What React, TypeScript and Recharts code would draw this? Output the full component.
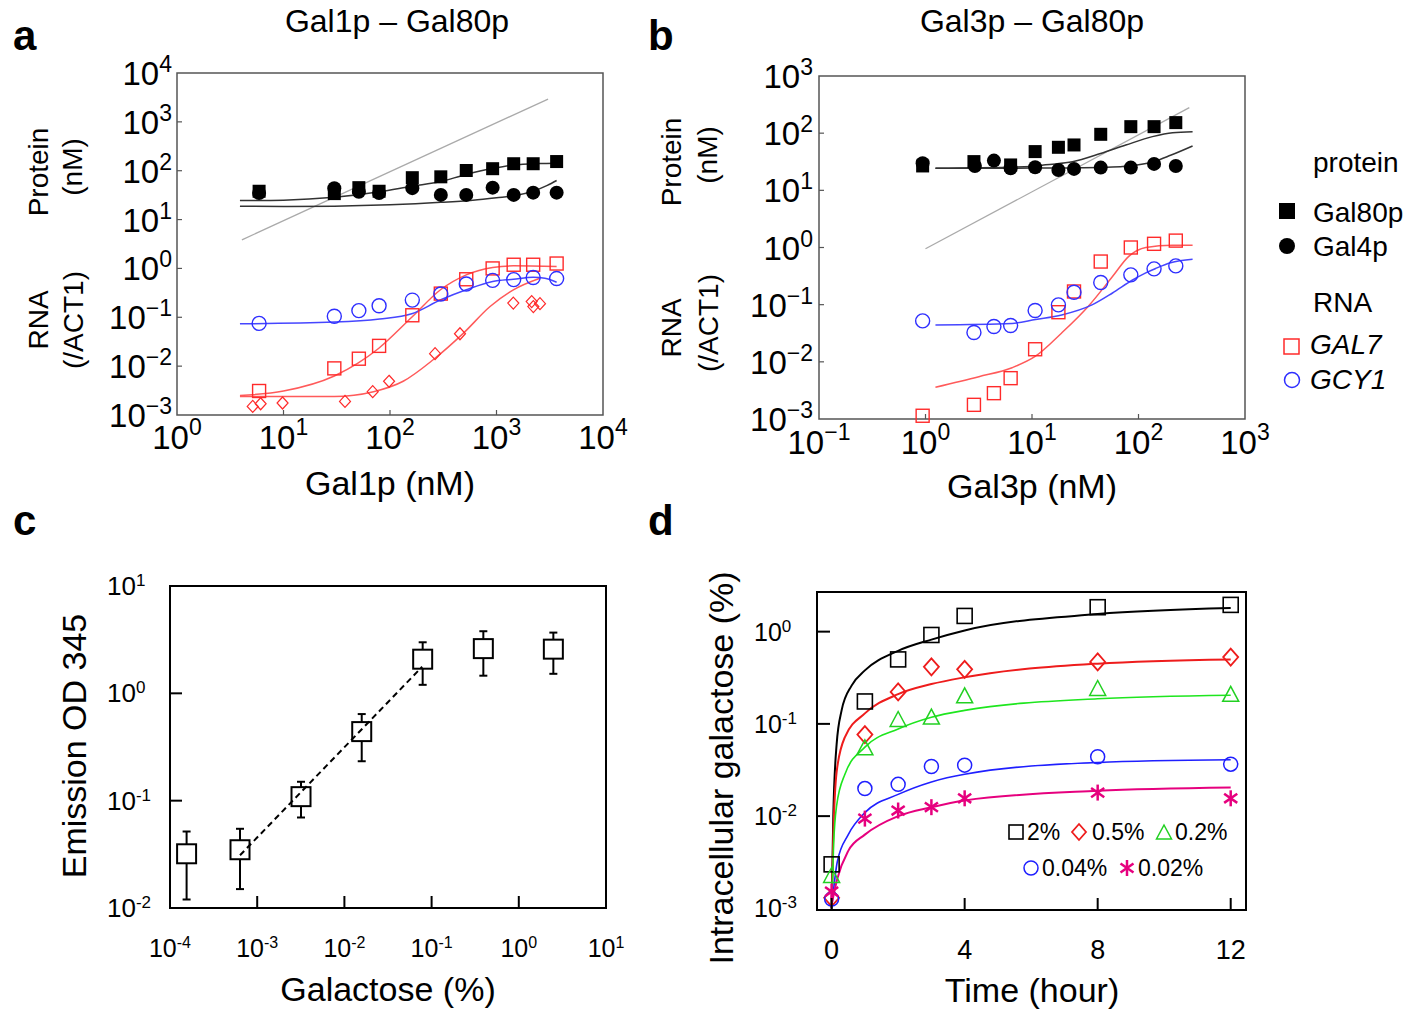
import React from 'react';
import { ComposedChart, Scatter, Line, XAxis, YAxis, ReferenceArea, ErrorBar } from 'recharts';

const FONT = "'Liberation Sans', Arial, Helvetica, sans-serif";
const RED = '#ff2a2a';
const RED_LINE = '#ff5a5a';
const BLUE = '#2e2eff';
const BLUE_LINE = '#4646ff';

// panel a: Gal1p titration (nM)
const aDose = [5.9, 30, 51, 79, 162, 300, 520, 920, 1450, 2210, 3670];
const aGal80p = [38, 34, 45, 38, 72, 75, 101, 110, 139, 139, 154];
const aGal4p = [35, 44, 37, 35, 44, 32, 32, 45, 32, 35.6, 35.6];
const aGAL7 = [0.0031, 0.009, 0.0142, 0.026, 0.11, 0.305, 0.6, 1.0, 1.19, 1.19, 1.26];
const aGCY1 = [0.075, 0.105, 0.137, 0.172, 0.225, 0.3, 0.48, 0.57, 0.59, 0.65, 0.62];
const aDiaX = [5.14, 6.1, 9.8, 37.8, 68.8, 98, 265, 454, 1438, 2140, 2218, 2560];
const aDiaY = [0.0015, 0.0017, 0.00176, 0.0019, 0.003, 0.0049, 0.018, 0.046, 0.195, 0.21, 0.166, 0.19];
// fitted curves
const aFit80X = [3.9, 10, 30, 80, 160, 300, 500, 930, 1440, 2500, 3670];
const aFit80Y = [24.5, 25, 28.5, 37, 48, 60, 82, 112, 131, 140, 142];
const aFit4X = [3.9, 10, 30, 100, 300, 600, 1000, 1500, 2200, 3000, 3670];
const aFit4Y = [18.8, 18.6, 18.8, 20, 22.5, 25, 28, 31, 38, 50, 63];
const aDiagX = [4.07, 3050];
const aDiagY = [3.85, 2930];
const aFitGAL7X = [3.9, 10, 30, 50, 78, 160, 300, 520, 920, 1440, 3670];
const aFitGAL7Y = [0.0025, 0.0031, 0.0063, 0.0115, 0.023, 0.1, 0.37, 0.74, 1.05, 1.13, 1.1];
const aFitDiaX = [3.9, 30, 70, 133, 254, 490, 870, 1440, 2560];
const aFitDiaY = [0.0024, 0.0024, 0.003, 0.0049, 0.0135, 0.0475, 0.166, 0.365, 0.63];
const aFitGCY1X = [3.9, 30, 80, 160, 300, 520, 920, 1440, 2210, 2850, 3670];
const aFitGCY1Y = [0.0736, 0.0797, 0.092, 0.118, 0.228, 0.365, 0.54, 0.6, 0.66, 0.63, 0.52];

// panel b: Gal3p titration (nM)
const bSqX = [0.94, 2.85, 6.3, 10.7, 17.7, 24.8, 44.2, 84.7, 140, 224];
const bGal80p = [26.7, 31.8, 27.8, 47.6, 56.6, 62.2, 95.5, 130, 130, 153];
const bCiX = [0.94, 2.91, 4.39, 6.3, 10.7, 17.7, 24.8, 44.2, 84.7, 140, 224];
const bGal4p = [29.7, 26.7, 33.1, 24.3, 25.3, 22.7, 23.7, 25, 25, 29, 26.7];
const bDose = [0.94, 2.85, 4.39, 6.3, 10.7, 17.7, 24.8, 44.2, 84.7, 140, 224];
const bGAL7 = [0.00114, 0.00177, 0.00283, 0.00518, 0.0166, 0.0738, 0.17, 0.568, 1.0, 1.16, 1.32];
const bGCY1 = [0.052, 0.0326, 0.0415, 0.0432, 0.079, 0.099, 0.165, 0.244, 0.332, 0.423, 0.477];
const bFit80X = [1.24, 10, 13.4, 24, 44, 76, 135, 209, 322];
const bFit80Y = [24.3, 26, 27.9, 31.6, 44, 62, 87, 102, 106];
const bFit4X = [1.24, 10, 30, 57, 100, 140, 200, 322];
const bFit4Y = [24.3, 24.5, 24.8, 25.5, 28, 32, 41, 59.7];
const bDiagX = [1, 300];
const bDiagY = [0.95, 279];
const bFitGAL7X = [1.24, 3.17, 6.5, 10.7, 19, 34, 57, 81, 117, 208, 322];
const bFitGAL7Y = [0.0036, 0.0055, 0.0079, 0.0124, 0.032, 0.095, 0.31, 0.7, 1.0, 1.1, 1.1];
const bFitGCY1X = [1.24, 6.5, 10.8, 19, 37, 57, 88, 117, 145, 200, 322];
const bFitGCY1Y = [0.0443, 0.047, 0.055, 0.066, 0.1, 0.16, 0.27, 0.36, 0.43, 0.54, 0.62];

// panel c: emission vs galactose
const cGal = [1.55e-4, 6.35e-4, 3.18e-3, 0.0158, 0.079, 0.392, 2.49];
const cEmission = [0.032, 0.0349, 0.109, 0.44, 2.08, 2.61, 2.58];
const cHigh = [0.0516, 0.0547, 0.15, 0.641, 2.99, 3.79, 3.68];
const cLow = [0.012, 0.015, 0.0697, 0.233, 1.2, 1.46, 1.52];
const cTrendX = [6.35e-4, 0.078];
const cTrendY = [0.031, 1.77];

// panel d: intracellular galactose over time
const dTime = [0, 1, 2, 3, 4, 8, 12];
const d2 = [0.003, 0.175, 0.5, 0.92, 1.48, 1.84, 1.95];
const d05 = [0.0013, 0.0765, 0.222, 0.415, 0.39, 0.47, 0.53];
const d02 = [0.0023, 0.0557, 0.113, 0.12, 0.204, 0.245, 0.212];
const d004 = [0.00126, 0.0199, 0.0221, 0.0345, 0.0357, 0.044, 0.0366];
const d002 = [0.00152, 0.0094, 0.0115, 0.0125, 0.0156, 0.018, 0.0156];
const dFit2X = [0, 0.05, 0.15, 0.3, 0.6, 1, 2, 3, 4, 8, 12];
const dFit2Y = [0.001, 0.01, 0.06, 0.14, 0.26, 0.38, 0.62, 0.82, 1.03, 1.55, 1.8];
const dFit05X = [0, 0.05, 0.15, 0.4, 1, 2, 3, 4, 8, 12];
const dFit05Y = [0.001, 0.006, 0.03, 0.072, 0.13, 0.21, 0.27, 0.32, 0.45, 0.5];
const dFit02X = [0, 0.06, 0.15, 0.4, 1, 2, 3, 4, 8, 12];
const dFit02Y = [0.001, 0.005, 0.013, 0.0285, 0.056, 0.088, 0.118, 0.14, 0.187, 0.204];
const dFit004X = [0, 0.17, 0.5, 1, 2, 3, 4, 8, 12];
const dFit004Y = [0.001, 0.0032, 0.0063, 0.0109, 0.0172, 0.0235, 0.0285, 0.0382, 0.0408];
const dFit002X = [0, 0.17, 0.5, 1, 2, 3, 4, 8, 12];
const dFit002Y = [0.0011, 0.0021, 0.0042, 0.0063, 0.01, 0.0125, 0.0148, 0.0188, 0.0204];

const pts = (xs: number[], ys: number[]) => xs.map((x, i) => ({ x, y: ys[i] }));

// marker shapes
const filledSquare = (s: number, c: string) => (p: any) => (
  <rect x={p.cx - s / 2} y={p.cy - s / 2} width={s} height={s} fill={c} />
);
const openSquare = (s: number, c: string, w: number, fill = 'none') => (p: any) => (
  <rect x={p.cx - s / 2} y={p.cy - s / 2} width={s} height={s} fill={fill} stroke={c} strokeWidth={w} />
);
const filledCircle = (r: number, c: string) => (p: any) => <circle cx={p.cx} cy={p.cy} r={r} fill={c} />;
const openCircle = (r: number, c: string, w: number) => (p: any) => (
  <circle cx={p.cx} cy={p.cy} r={r} fill="none" stroke={c} strokeWidth={w} />
);
const openDiamond = (hw: number, hh: number, c: string, w: number) => (p: any) => (
  <polygon
    points={`${p.cx},${p.cy - hh} ${p.cx + hw},${p.cy} ${p.cx},${p.cy + hh} ${p.cx - hw},${p.cy}`}
    fill="none"
    stroke={c}
    strokeWidth={w}
  />
);
const openTriangle = (w: number, h: number, c: string, sw: number) => (p: any) => (
  <polygon
    points={`${p.cx},${p.cy - h / 2} ${p.cx + w / 2},${p.cy + h / 2} ${p.cx - w / 2},${p.cy + h / 2}`}
    fill="none"
    stroke={c}
    strokeWidth={sw}
  />
);
const asterisk = (r: number, c: string, w: number) => (p: any) => (
  <g stroke={c} strokeWidth={w}>
    {[90, 35, 145].map(a => {
      const dx = r * Math.cos((a * Math.PI) / 180);
      const dy = r * Math.sin((a * Math.PI) / 180);
      return <line key={a} x1={p.cx - dx} y1={p.cy - dy} x2={p.cx + dx} y2={p.cy + dy} />;
    })}
  </g>
);
const nothing = () => <g />;

// tick labels "10^n" with optional inward tick marks
interface TickOpts {
  fs: number;
  sfs: number;
  raise: number;
  anchor: 'start' | 'middle' | 'end';
  base: number;
  minus: string;
  side: 'left' | 'bottom';
  gap: number;
  len: number;
  marks: number[];
  stroke: string;
  sw: number;
}

function powTick(o: TickOpts) {
  return function PowTick(props: any) {
    const { x, y, payload } = props;
    const v = payload.value;
    const e = Math.round(Math.log10(v));
    const exp = e < 0 ? o.minus + String(-e) : String(e);
    let mark = null;
    if (o.marks.some(m => Math.abs(Math.log10(m) - Math.log10(v)) < 1e-6)) {
      if (o.side === 'left') {
        const ax = x + o.gap;
        mark = <line x1={ax} y1={y} x2={ax + o.len} y2={y} stroke={o.stroke} strokeWidth={o.sw} />;
      } else {
        const ay = y - o.gap;
        mark = <line x1={x} y1={ay} x2={x} y2={ay - o.len} stroke={o.stroke} strokeWidth={o.sw} />;
      }
    }
    return (
      <g>
        {mark}
        <text x={x} y={y + o.base} textAnchor={o.anchor} fontSize={o.fs} fontFamily={FONT} fill="#000">
          10
          <tspan dy={-o.raise} fontSize={o.sfs}>
            {exp}
          </tspan>
        </text>
      </g>
    );
  };
}

function PanelA() {
  const xt = powTick({ fs: 33, sfs: 23, raise: 14, anchor: 'middle', base: 34, minus: '\u2212', side: 'bottom', gap: 0, len: 5, marks: [10, 100, 1000], stroke: '#555', sw: 1.2 });
  const yt = powTick({ fs: 33, sfs: 23, raise: 13, anchor: 'end', base: 12, minus: '\u2212', side: 'left', gap: 5, len: 5, marks: [1e-2, 0.1, 1, 10, 100, 1000], stroke: '#555', sw: 1.2 });
  return (
    <ComposedChart width={640} height={520} margin={{ top: 73, right: 37, left: 0, bottom: 0 }}>
      <XAxis dataKey="x" type="number" scale="log" domain={[1, 10000]} ticks={[1, 10, 100, 1000, 10000]} interval={0} height={105} axisLine={false} tickLine={false} tickSize={0} tickMargin={0} tick={xt} />
      <YAxis dataKey="y" type="number" scale="log" domain={[1e-3, 1e4]} ticks={[1e-3, 1e-2, 0.1, 1, 10, 100, 1000, 10000]} interval={0} width={177} axisLine={false} tickLine={false} tickSize={0} tickMargin={5} tick={yt} />
      <ReferenceArea x1={1} x2={10000} y1={1e-3} y2={1e4} fill="none" stroke="#555" strokeWidth={1.5} ifOverflow="visible" />
      <Line data={pts(aDiagX, aDiagY)} dataKey="y" type="linear" stroke="#aaaaaa" strokeWidth={1.3} dot={false} isAnimationActive={false} />
      <Line data={pts(aFit80X, aFit80Y)} dataKey="y" type="monotone" stroke="#333" strokeWidth={1.5} dot={false} isAnimationActive={false} />
      <Line data={pts(aFit4X, aFit4Y)} dataKey="y" type="monotone" stroke="#333" strokeWidth={1.5} dot={false} isAnimationActive={false} />
      <Line data={pts(aFitGAL7X, aFitGAL7Y)} dataKey="y" type="monotone" stroke={RED_LINE} strokeWidth={1.5} dot={false} isAnimationActive={false} />
      <Line data={pts(aFitDiaX, aFitDiaY)} dataKey="y" type="monotone" stroke={RED_LINE} strokeWidth={1.5} dot={false} isAnimationActive={false} />
      <Line data={pts(aFitGCY1X, aFitGCY1Y)} dataKey="y" type="monotone" stroke={BLUE_LINE} strokeWidth={1.5} dot={false} isAnimationActive={false} />
      <Scatter data={pts(aDose, aGal80p)} shape={filledSquare(13, '#000')} isAnimationActive={false} />
      <Scatter data={pts(aDose, aGal4p)} shape={filledCircle(7, '#000')} isAnimationActive={false} />
      <Scatter data={pts(aDiaX, aDiaY)} shape={openDiamond(5.5, 6, RED, 1.2)} isAnimationActive={false} />
      <Scatter data={pts(aDose, aGAL7)} shape={openSquare(13, RED, 1.4)} isAnimationActive={false} />
      <Scatter data={pts(aDose, aGCY1)} shape={openCircle(7, BLUE, 1.4)} isAnimationActive={false} />
    </ComposedChart>
  );
}

function PanelB() {
  const xt = powTick({ fs: 33, sfs: 23, raise: 14, anchor: 'middle', base: 35, minus: '\u2212', side: 'bottom', gap: 0, len: 5, marks: [1, 10, 100], stroke: '#555', sw: 1.2 });
  const yt = powTick({ fs: 33, sfs: 23, raise: 13, anchor: 'end', base: 12, minus: '\u2212', side: 'left', gap: 6, len: 5, marks: [1e-2, 0.1, 1, 10, 100], stroke: '#555', sw: 1.2 });
  return (
    <ComposedChart width={680} height={520} margin={{ top: 76, right: 75, left: 0, bottom: 0 }}>
      <XAxis dataKey="x" type="number" scale="log" domain={[0.1, 1000]} ticks={[0.1, 1, 10, 100, 1000]} interval={0} height={101} axisLine={false} tickLine={false} tickSize={0} tickMargin={0} tick={xt} />
      <YAxis dataKey="y" type="number" scale="log" domain={[1e-3, 1e3]} ticks={[1e-3, 1e-2, 0.1, 1, 10, 100, 1000]} interval={0} width={179} axisLine={false} tickLine={false} tickSize={0} tickMargin={6} tick={yt} />
      <ReferenceArea x1={0.1} x2={1000} y1={1e-3} y2={1e3} fill="none" stroke="#555" strokeWidth={1.5} ifOverflow="visible" />
      <Line data={pts(bDiagX, bDiagY)} dataKey="y" type="linear" stroke="#aaaaaa" strokeWidth={1.3} dot={false} isAnimationActive={false} />
      <Line data={pts(bFit80X, bFit80Y)} dataKey="y" type="monotone" stroke="#333" strokeWidth={1.5} dot={false} isAnimationActive={false} />
      <Line data={pts(bFit4X, bFit4Y)} dataKey="y" type="monotone" stroke="#333" strokeWidth={1.5} dot={false} isAnimationActive={false} />
      <Line data={pts(bFitGAL7X, bFitGAL7Y)} dataKey="y" type="monotone" stroke={RED_LINE} strokeWidth={1.5} dot={false} isAnimationActive={false} />
      <Line data={pts(bFitGCY1X, bFitGCY1Y)} dataKey="y" type="monotone" stroke={BLUE_LINE} strokeWidth={1.5} dot={false} isAnimationActive={false} />
      <Scatter data={pts(bSqX, bGal80p)} shape={filledSquare(13, '#000')} isAnimationActive={false} />
      <Scatter data={pts(bCiX, bGal4p)} shape={filledCircle(7, '#000')} isAnimationActive={false} />
      <Scatter data={pts(bDose, bGAL7)} shape={openSquare(13, RED, 1.4)} isAnimationActive={false} />
      <Scatter data={pts(bDose, bGCY1)} shape={openCircle(7, BLUE, 1.4)} isAnimationActive={false} />
    </ComposedChart>
  );
}

function PanelC() {
  const xt = powTick({ fs: 25, sfs: 16, raise: 9, anchor: 'middle', base: 49, minus: '-', side: 'bottom', gap: 0, len: 12, marks: [1e-3, 1e-2, 0.1, 1], stroke: '#000', sw: 2 });
  const yt = powTick({ fs: 26, sfs: 17, raise: 9, anchor: 'start', base: 9, minus: '-', side: 'left', gap: 63, len: 12, marks: [0.1, 1], stroke: '#000', sw: 2 });
  const errData = cGal.map((x, i) => ({ x, y: cEmission[i], err: [cEmission[i] - cLow[i], cHigh[i] - cEmission[i]] }));
  return (
    <ComposedChart width={640} height={492} margin={{ top: 66, right: 34, left: 0, bottom: 0 }}>
      <XAxis dataKey="x" type="number" scale="log" domain={[1e-4, 10]} ticks={[1e-4, 1e-3, 1e-2, 0.1, 1, 10]} interval={0} height={104} axisLine={false} tickLine={false} tickSize={0} tickMargin={0} tick={xt} />
      <YAxis dataKey="y" type="number" scale="log" domain={[1e-2, 10]} ticks={[1e-2, 0.1, 1, 10]} interval={0} width={170} axisLine={false} tickLine={false} tickSize={0} tickMargin={63} tick={yt} />
      <ReferenceArea x1={1e-4} x2={10} y1={1e-2} y2={10} fill="none" stroke="#000" strokeWidth={2} ifOverflow="visible" />
      <Scatter data={errData} shape={nothing} isAnimationActive={false}>
        <ErrorBar dataKey="err" direction="y" width={4} stroke="#000" strokeWidth={2} isAnimationActive={false} />
      </Scatter>
      <Scatter data={pts(cGal, cEmission)} shape={openSquare(19, '#000', 2, '#fff')} isAnimationActive={false} />
      <Line data={pts(cTrendX, cTrendY)} dataKey="y" type="linear" stroke="#000" strokeWidth={2} strokeDasharray="6 4" dot={false} isAnimationActive={false} zIndex={700} />
    </ComposedChart>
  );
}

const D_BLACK = '#000';
const D_RED = '#ee1c1c';
const D_GREEN = '#1ee61e';
const D_BLUE = '#1f1fff';
const D_MAG = '#e6007e';

function PanelD() {
  const xt = (props: any) => {
    const { x, y, payload } = props;
    return (
      <g>
        <line x1={x} y1={y} x2={x} y2={y - 12} stroke="#000" strokeWidth={2} />
        <text x={x} y={y + 49} textAnchor="middle" fontSize={27} fontFamily={FONT} fill="#000">
          {payload.value}
        </text>
      </g>
    );
  };
  const yt = powTick({ fs: 25, sfs: 17, raise: 9, anchor: 'start', base: 9, minus: '-', side: 'left', gap: 63, len: 13, marks: [0.01, 0.1, 1], stroke: '#000', sw: 2 });
  return (
    <ComposedChart width={640} height={492} margin={{ top: 72, right: 34, left: 0, bottom: 0 }}>
      <XAxis dataKey="x" type="number" domain={[-0.44, 12.46]} ticks={[0, 4, 8, 12]} interval={0} height={102} axisLine={false} tickLine={false} tickSize={0} tickMargin={0} tick={xt} />
      <YAxis dataKey="y" type="number" scale="log" domain={[0.00096, 2.69]} ticks={[1e-3, 1e-2, 0.1, 1]} interval={0} width={177} axisLine={false} tickLine={false} tickSize={0} tickMargin={63} tick={yt} />
      <ReferenceArea x1={-0.44} x2={12.46} y1={0.00096} y2={2.69} fill="none" stroke="#000" strokeWidth={2} ifOverflow="visible" />
      <Line data={pts(dFit2X, dFit2Y)} dataKey="y" type="monotone" stroke={D_BLACK} strokeWidth={2} dot={false} isAnimationActive={false} />
      <Line data={pts(dFit05X, dFit05Y)} dataKey="y" type="monotone" stroke={D_RED} strokeWidth={2} dot={false} isAnimationActive={false} />
      <Line data={pts(dFit02X, dFit02Y)} dataKey="y" type="monotone" stroke={D_GREEN} strokeWidth={1.6} dot={false} isAnimationActive={false} />
      <Line data={pts(dFit004X, dFit004Y)} dataKey="y" type="monotone" stroke={D_BLUE} strokeWidth={1.6} dot={false} isAnimationActive={false} />
      <Line data={pts(dFit002X, dFit002Y)} dataKey="y" type="monotone" stroke={D_MAG} strokeWidth={2} dot={false} isAnimationActive={false} />
      <Scatter data={pts(dTime, d2)} shape={openSquare(15, D_BLACK, 1.6)} isAnimationActive={false} />
      <Scatter data={pts(dTime, d05)} shape={openDiamond(7.5, 8.5, D_RED, 1.8)} isAnimationActive={false} />
      <Scatter data={pts(dTime, d02)} shape={openTriangle(16, 15, '#22d022', 1.5)} isAnimationActive={false} />
      <Scatter data={pts(dTime, d004)} shape={openCircle(7, D_BLUE, 1.5)} isAnimationActive={false} />
      <Scatter data={pts(dTime, d002)} shape={asterisk(8, D_MAG, 2.5)} isAnimationActive={false} />
    </ComposedChart>
  );
}

function Overlay() {
  const txt = (x: number, y: number, s: string, fs: number, extra: any = {}) => (
    <text x={x} y={y} fontSize={fs} fontFamily={FONT} fill="#000" {...extra}>
      {s}
    </text>
  );
  const vtxt = (x: number, y: number, s: string, fs: number) => (
    <text transform={`translate(${x},${y}) rotate(-90)`} textAnchor="middle" fontSize={fs} fontFamily={FONT} fill="#000">
      {s}
    </text>
  );
  return (
    <svg width={1412} height={1012} style={{ position: 'absolute', left: 0, top: 0, pointerEvents: 'none' }}>
      {txt(13, 50, 'a', 42, { fontWeight: 'bold' })}
      {txt(648, 50, 'b', 42, { fontWeight: 'bold' })}
      {txt(13, 535, 'c', 42, { fontWeight: 'bold' })}
      {txt(648, 535, 'd', 42, { fontWeight: 'bold' })}

      {txt(397, 32, 'Gal1p \u2013 Gal80p', 32, { textAnchor: 'middle' })}
      {txt(1032, 32, 'Gal3p \u2013 Gal80p', 32, { textAnchor: 'middle' })}

      {vtxt(48, 172, 'Protein', 28)}
      {vtxt(82, 167, '(nM)', 28)}
      {vtxt(48, 320, 'RNA', 28)}
      {vtxt(83, 320, '(/ACT1)', 28)}
      {vtxt(681, 162, 'Protein', 28)}
      {vtxt(717, 155, '(nM)', 28)}
      {vtxt(681, 328, 'RNA', 28)}
      {vtxt(718, 323, '(/ACT1)', 28)}

      {txt(390, 495, 'Gal1p (nM)', 34, { textAnchor: 'middle' })}
      {txt(1032, 498, 'Gal3p (nM)', 34, { textAnchor: 'middle' })}

      {/* legend for a and b */}
      {txt(1313, 172, 'protein', 28)}
      <rect x={1279} y={203} width={16} height={16} fill="#000" />
      {txt(1313, 222, 'Gal80p', 28)}
      <circle cx={1287} cy={246} r={8} fill="#000" />
      {txt(1313, 256, 'Gal4p', 28)}
      {txt(1313, 312, 'RNA', 28)}
      <rect x={1284} y={339} width={15} height={15} fill="none" stroke={RED} strokeWidth={1.5} />
      {txt(1310, 354, 'GAL7', 28, { fontStyle: 'italic' })}
      <circle cx={1292} cy={380} r={7.5} fill="none" stroke={BLUE} strokeWidth={1.5} />
      {txt(1310, 389, 'GCY1', 28, { fontStyle: 'italic' })}

      {vtxt(86, 746, 'Emission OD 345', 34)}
      {txt(388, 1001, 'Galactose (%)', 34, { textAnchor: 'middle' })}

      {vtxt(733, 768, 'Intracellular galactose (%)', 34)}
      {txt(1032, 1002, 'Time (hour)', 34, { textAnchor: 'middle' })}

      {/* legend for d */}
      <rect x={1009} y={825} width={14} height={14} fill="none" stroke="#000" strokeWidth={1.6} />
      {txt(1027, 840, '2%', 23)}
      <polygon points="1079,824 1086,832 1079,840 1072,832" fill="none" stroke={D_RED} strokeWidth={1.8} />
      {txt(1092, 840, '0.5%', 23)}
      <polygon points="1164,825 1171.5,839 1156.5,839" fill="none" stroke="#22d022" strokeWidth={1.5} />
      {txt(1175, 840, '0.2%', 23)}
      <circle cx={1031} cy={868} r={7} fill="none" stroke={D_BLUE} strokeWidth={1.5} />
      {txt(1042, 876, '0.04%', 23)}
      <g stroke={D_MAG} strokeWidth={2.5}>
        <line x1={1127} y1={860} x2={1127} y2={876} />
        <line x1={1120.5} y1={863.5} x2={1133.5} y2={872.5} />
        <line x1={1133.5} y1={863.5} x2={1120.5} y2={872.5} />
      </g>
      {txt(1138, 876, '0.02%', 23)}
    </svg>
  );
}

export default function App() {
  return (
    <div style={{ position: 'absolute', left: 0, top: 0, width: 1412, height: 1012, background: '#fff', fontFamily: FONT }}>
      <div style={{ position: 'absolute', left: 0, top: 0 }}>
        <PanelA />
      </div>
      <div style={{ position: 'absolute', left: 640, top: 0 }}>
        <PanelB />
      </div>
      <div style={{ position: 'absolute', left: 0, top: 520 }}>
        <PanelC />
      </div>
      <div style={{ position: 'absolute', left: 640, top: 520 }}>
        <PanelD />
      </div>
      <Overlay />
    </div>
  );
}
